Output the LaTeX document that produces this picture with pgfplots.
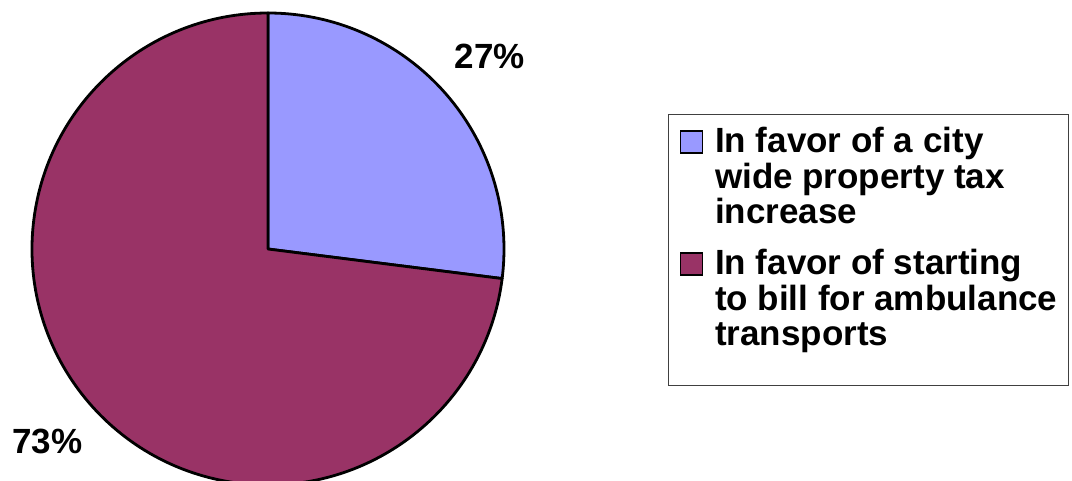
\documentclass[border=0pt]{standalone}
\usepackage{pgfplots}
\usepackage{pgfplotstable}
\pgfplotsset{compat=1.18}
\usepackage{fontspec}
\setmainfont{Liberation Sans}
\definecolor{sliceA}{RGB}{153,153,255}
\definecolor{sliceB}{RGB}{153,51,102}

\pgfplotstableread{
share
27
73
}\piedata

\begin{document}
\begin{tikzpicture}
\pgfplotstablegetelem{0}{share}\of\piedata \let\va\pgfplotsretval
\pgfplotstablegetelem{1}{share}\of\piedata \let\vb\pgfplotsretval
\pgfmathsetmacro\angA{90-3.6*\va}
\pgfmathsetmacro\angB{\angA-3.6*\vb}
\path[use as bounding box] (0,0) rectangle (1072pt,480pt);
\begin{axis}[
  at={(0,0)}, anchor=south west,
  hide axis, scale only axis,
  width=1072pt, height=480pt,
  xmin=0, xmax=1072, ymin=0, ymax=480,
  clip=false,
  legend style={
    at={(axis cs:668,366)}, anchor=north west,
    draw=black!75, line width=1.2pt,
    inner xsep=11pt, inner ysep=13pt,
    font=\fontsize{35}{35.5}\selectfont\bfseries,
    column sep=12pt, row sep=24pt,
    nodes={inner sep=0pt},
  },
  legend cell align=left,
  legend style={cells={anchor=base west, align=left, text depth=, text height=}},
  legend image code/.code={\draw[#1, line width=1.5pt] (0pt,71pt) rectangle (22pt,93pt);},
]
\fill[sliceA, draw=black, line width=2.8pt, line join=round]
  (axis cs:268,231) -- ++(90:236pt) arc[start angle=90, end angle=\angA, radius=236pt] -- cycle;
\fill[sliceB, draw=black, line width=2.8pt, line join=round]
  (axis cs:268,231) -- ++(\angA:236pt) arc[start angle=\angA, end angle=\angB, radius=236pt] -- cycle;
\node[anchor=base, font=\fontsize{35}{35}\selectfont\bfseries, inner sep=0pt] at (axis cs:490,411) {\va\%};
\node[anchor=base, font=\fontsize{35}{35}\selectfont\bfseries, inner sep=0pt] at (axis cs:47.5,27) {\vb\%};
\addlegendimage{fill=sliceA, draw=black}
\addlegendentry{In favor of a city\\wide property tax\\increase}
\addlegendimage{fill=sliceB, draw=black}
\addlegendentry{In favor of starting\\to bill for ambulance\\transports}
\addlegendimage{empty legend}
\addlegendentry{}
\end{axis}
\end{tikzpicture}
\end{document}
